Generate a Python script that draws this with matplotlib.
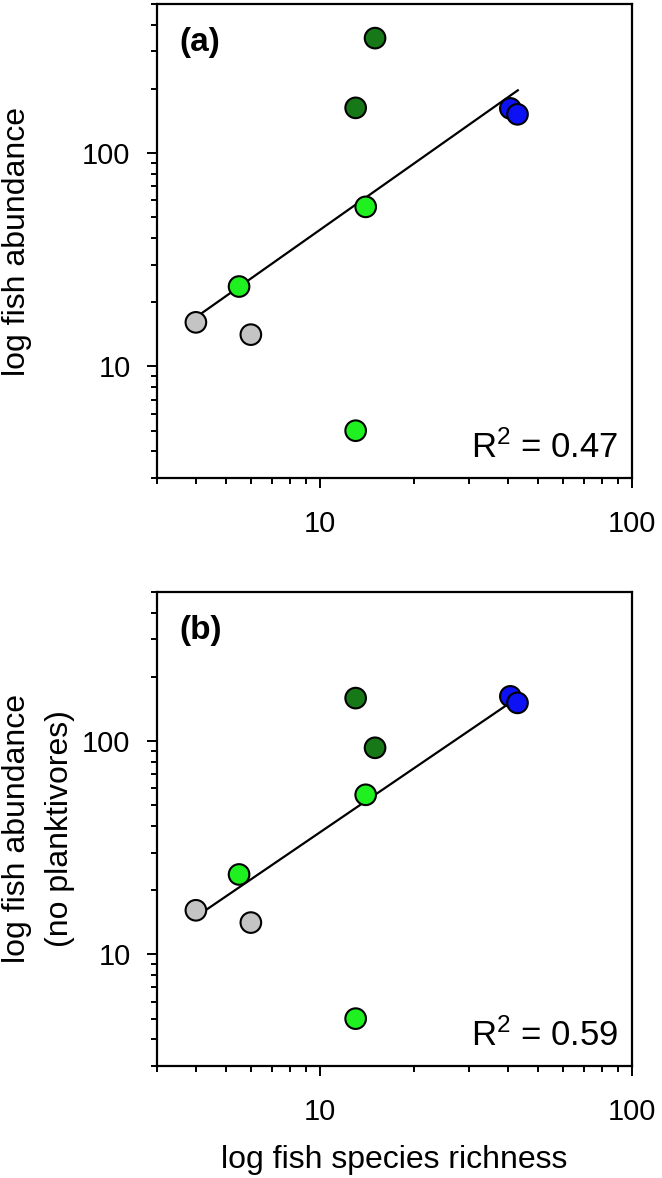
import numpy as np
import matplotlib
matplotlib.use("Agg")
import matplotlib.pyplot as plt
from matplotlib.ticker import LogLocator, NullFormatter, FixedLocator, FixedFormatter

plt.rcParams["font.family"] = ["Liberation Sans", "DejaVu Sans"]
plt.rcParams["mathtext.fontset"] = "custom"
plt.rcParams["mathtext.rm"] = "Liberation Sans"
plt.rcParams["mathtext.it"] = "Liberation Sans"

# richness (x) and abundance (y) per site, colour per habitat group
richesse = [4, 6, 5.5, 13, 14, 13, 15, 40.7, 42.9]
abond_a = [16.1, 14.1, 23.7, 5.0, 56, 163, 346, 162, 152]
abond_b = [16.1, 14.1, 23.7, 5.0, 56, 159, 93, 162, 151]
couleurs = ["#c4c4c4", "#c4c4c4", "#1ff01f", "#1ff01f", "#1ff01f",
            "#167816", "#167816", "#0c12f4", "#0c12f4"]

# ends of the fitted lines
fit_x = [4, 43]
fit_a = [17, 197]
fit_b = [15, 160]

panneaux = [
    ("(a)", abond_a, fit_a, "R$^2$ = 0.47", "log fish abundance", -0.262),
    ("(b)", abond_b, fit_b, "R$^2$ = 0.59", "log fish abundance\n(no planktivores)", -0.173),
]

fig = plt.figure(figsize=(6.62, 11.78), dpi=100)
positions = [[0.237, 0.5942, 0.718, 0.4024], [0.237, 0.0951, 0.718, 0.4024]]

for i, (lettre, abond, fit_y, r2, ylab, ylab_x) in enumerate(panneaux):
    ax = fig.add_axes(positions[i])
    ax.set_xscale("log")
    ax.set_yscale("log")
    ax.plot(fit_x, fit_y, color="black", linewidth=1.6, zorder=2)
    ax.scatter(richesse, abond, s=220, c=couleurs, edgecolors="black",
               linewidths=1.5, zorder=3)
    ax.set_xlim(3, 100)
    ax.set_ylim(3, 500)

    ax.xaxis.set_major_locator(FixedLocator([10, 100]))
    ax.xaxis.set_major_formatter(FixedFormatter(["10", "100"]))
    ax.yaxis.set_major_locator(FixedLocator([10, 100]))
    ax.yaxis.set_major_formatter(FixedFormatter(["10", "100"]))
    ax.xaxis.set_minor_locator(LogLocator(base=10, subs=np.arange(2, 10)))
    ax.yaxis.set_minor_locator(LogLocator(base=10, subs=np.arange(2, 10)))
    ax.xaxis.set_minor_formatter(NullFormatter())
    ax.yaxis.set_minor_formatter(NullFormatter())

    for sp in ax.spines.values():
        sp.set_linewidth(1.6)
    ax.tick_params(which="both", direction="out", top=False, right=False,
                   width=1.4, colors="black")
    ax.tick_params(which="major", length=7, labelsize=21)
    ax.tick_params(which="minor", length=4)
    ax.tick_params(axis="y", which="major", pad=12)
    ax.tick_params(axis="x", which="major", pad=16)

    ax.text(0.048, 0.918, lettre, transform=ax.transAxes, fontsize=24,
            fontweight="bold", ha="left", va="center")
    ax.text(0.97, 0.042, r2, transform=ax.transAxes, fontsize=25,
            ha="right", va="baseline")
    ax.set_ylabel(ylab, fontsize=23, linespacing=1.55)
    ax.yaxis.set_label_coords(ylab_x, 0.5)

    if i == 1:
        ax.set_xlabel("log fish species richness", fontsize=23, labelpad=14)

fig.savefig("out.png", dpi=100)
